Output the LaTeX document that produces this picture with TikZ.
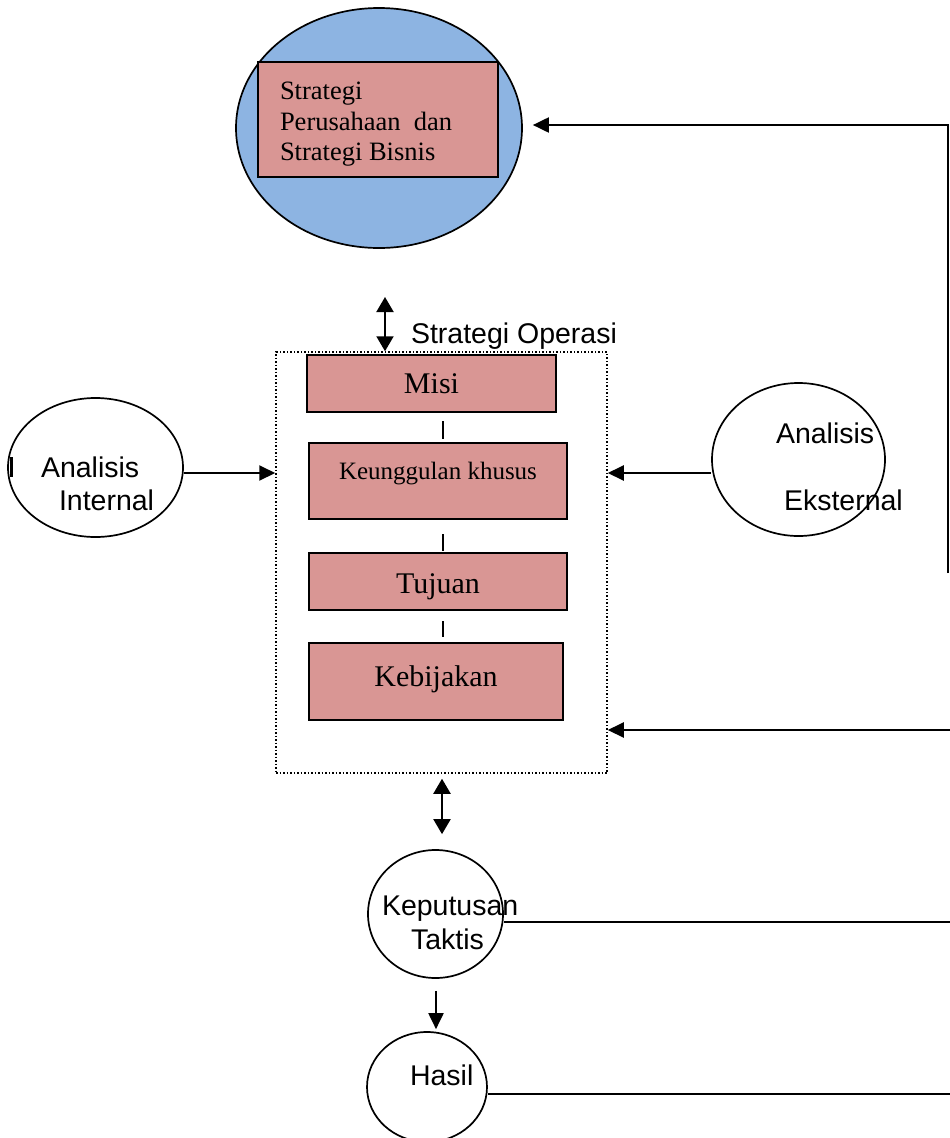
\documentclass[tikz,border=0pt]{standalone}
\usepackage{fontspec}
\setmainfont{Liberation Serif}
\setsansfont{Liberation Sans}
\usetikzlibrary{arrows.meta,shapes.geometric}
\definecolor{capblue}{RGB}{141,180,226}
\definecolor{boxpink}{RGB}{217,150,148}
\begin{document}
\begin{tikzpicture}[x=1pt,y=-1pt,
  line width=2pt,
  pinkbox/.style={draw, fill=boxpink, rectangle, inner sep=0pt,
    font=\fontsize{30}{36}\selectfont},
  oval/.style={draw, ellipse, inner sep=0pt, line width=1.7pt},
  sertext/.style={font=\fontsize{26.5}{31}\selectfont, inner sep=0pt, anchor=base west},
  santext/.style={font=\sffamily\fontsize{28.5}{32}\selectfont, inner sep=0pt, anchor=base west},
  arr/.style={-{Triangle[length=16pt,width=15pt]}},
  darr/.style={{Triangle[length=15pt,width=17pt]}-{Triangle[length=15pt,width=17pt]}},
  link/.style={line width=1.7pt},
  baseat/.style={text height=#1, text depth=0pt}
]
\useasboundingbox (0,0) rectangle (950,1138);
\clip (0,0) rectangle (950,1138);

% corporate and business strategy
\node[oval, fill=capblue, minimum width=286pt, minimum height=240pt] (corp) at (379,128) {};
\node[pinkbox, minimum width=240pt, minimum height=115pt] (corpbox) at (378,119.5) {};
\node[sertext] (corp1) at (279,99) {Strategi};
\node[sertext] (corp2) at (279,130) {Perusahaan\ \ dan};
\node[sertext] (corp3) at (279,160) {Strategi Bisnis};

% operations strategy frame
\node[draw, dotted, line width=1.5pt, minimum width=331pt, minimum height=421pt, inner sep=0pt] (ops) at (441.5,562.5) {};
\node[santext] (opslabel) at (410,343) {Strategi Operasi};
\coordinate (soTop) at (385,297);
\draw[darr] (soTop) -- (soTop |- ops.north);

% elements of the operations strategy
\node[pinkbox, minimum width=249pt, minimum height=57pt, baseat=19pt] (misi) at (431.5,383.5) {Misi};
\node[pinkbox, minimum width=258pt, minimum height=76pt, text height=0pt, text depth=4pt,
  font=\fontsize{25}{30}\selectfont] (keung) at (438,481) {Keunggulan khusus};
\node[pinkbox, minimum width=258pt, minimum height=57pt, baseat=23pt] (tujuan) at (438,581.5) {Tujuan};
\node[pinkbox, minimum width=254pt, minimum height=77pt, baseat=10pt] (kebij) at (436,681.5) {Kebijakan};

\coordinate (spine) at (443,0);
\draw[link, shorten <=8pt, shorten >=3pt] (misi.south -| spine) -- (keung.north -| spine);
\draw[link, shorten <=14pt, shorten >=1pt] (keung.south -| spine) -- (tujuan.north -| spine);
\draw[link, shorten <=10pt, shorten >=5pt] (tujuan.south -| spine) -- (kebij.north -| spine);

% internal and external analysis
\node[oval, minimum width=175pt, minimum height=139pt] (int) at (95.5,467.5) {};
\node[santext] (int1) at (40,477) {Analisis};
\node[santext] (int2) at (58,510) {Internal};
\draw[line width=2.4pt] (11.5,457) -- (11.5,477);

\node[oval, minimum width=173pt, minimum height=153pt] (ext) at (798.5,459.5) {};
\node[santext] (ext1) at (775,443) {Analisis};
\node[santext] (ext2) at (783,510) {Eksternal};

\coordinate (yint) at (0,473);
\draw[arr] (int.east |- yint) -- (ops.west |- yint);
\draw[arr] (ext.west |- yint) -- (ops.east |- yint);

% feedback to the corporate strategy
\coordinate (fbBot) at (948,573);
\coordinate (fbTop) at (948,125);
\draw[arr, shorten >=10pt] (fbBot) -- (fbTop) -- (fbTop -| corp.east);

% feedback into the operations frame
\coordinate (r730) at (950,730);
\draw[arr] (r730) -- (r730 -| ops.east);

% tactical decisions and results
\node[oval, minimum width=135pt, minimum height=128pt] (kep) at (435.5,914) {};
\node[santext] (kep1) at (381,915) {Keputusan};
\node[santext] (kep2) at (410,949) {Taktis};

\node[oval, minimum width=120pt, minimum height=110pt] (hasil) at (427,1087) {};
\node[santext] (hasil1) at (409,1085) {Hasil};

\coordinate (xdn) at (442,0);
\draw[darr, shorten <=5pt, shorten >=15pt] (ops.south -| xdn) -- (kep.north -| xdn);
\coordinate (xkh) at (436,0);
\draw[arr, shorten <=12pt, shorten >=2pt] (kep.south -| xkh) -- (hasil.north -| xkh);

\coordinate (r922) at (950,922);
\draw[link, line width=2pt] (r922) -- (r922 -| kep.east);
\coordinate (r1094) at (950,1094);
\draw[link, line width=2pt] (r1094) -- (r1094 -| hasil.east);
\end{tikzpicture}
\end{document}
